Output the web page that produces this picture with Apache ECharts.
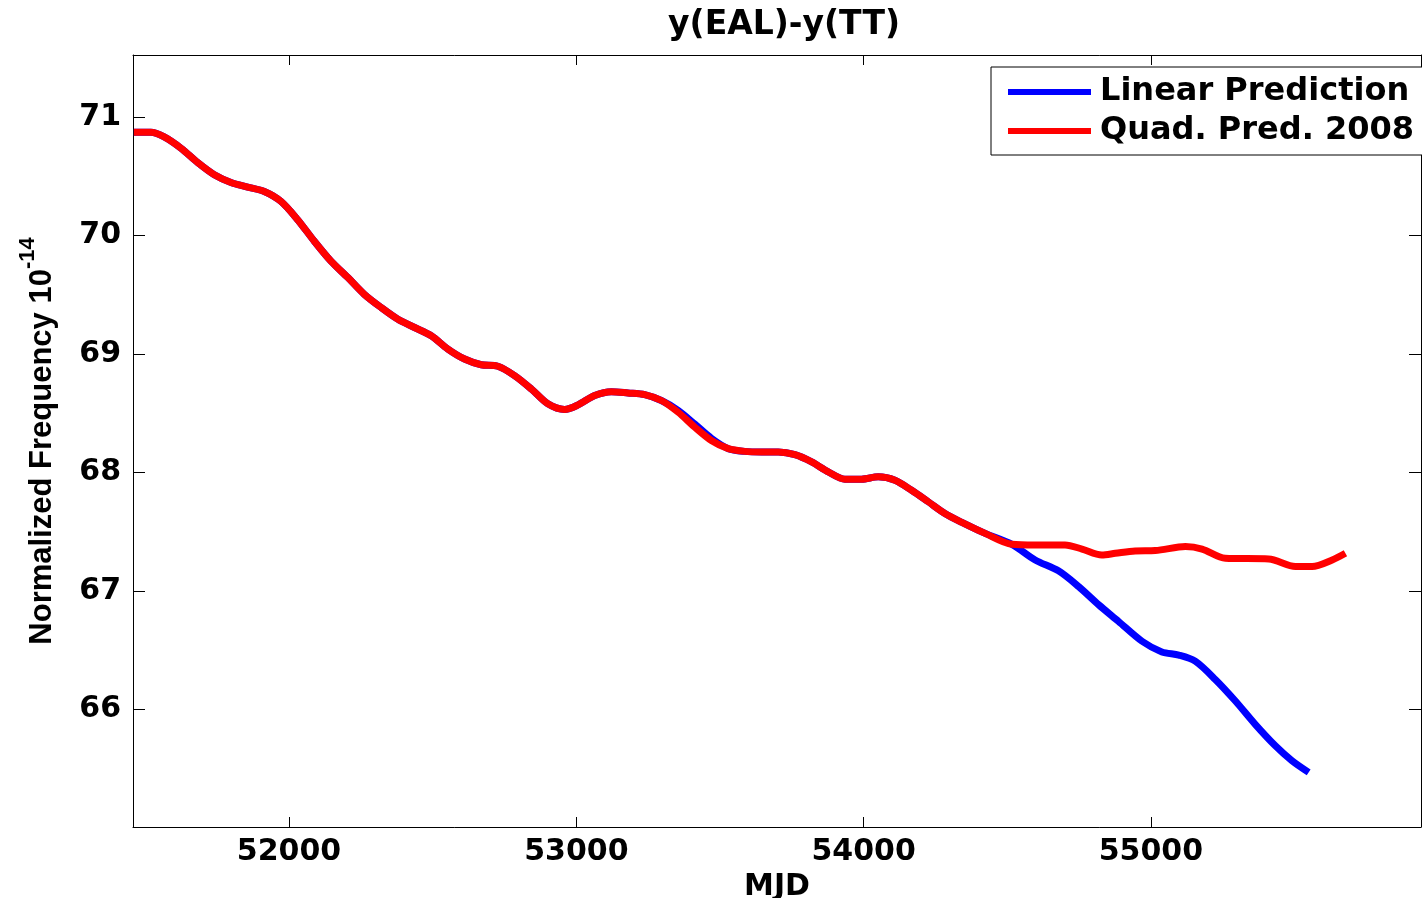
<!DOCTYPE html>
<html>
<head>
<meta charset="utf-8">
<title>y(EAL)-y(TT)</title>
<script src="https://cdn.jsdelivr.net/npm/echarts@6/dist/echarts.min.js"></script>
<style>
  html, body { margin: 0; padding: 0; background: #fff; }
  #chart { width: 1422px; height: 898px; }
</style>
</head>
<body>
<div id="chart"></div>
<script>
// shared part of both predictions (they overlap up to ~54520)
const mjdCommon = [51460, 51519, 51564, 51624, 51682, 51740, 51798, 51856, 51914, 51972,
  52030, 52088, 52146, 52205, 52262, 52321, 52379, 52437, 52495, 52553,
  52611, 52669, 52727, 52785, 52843, 52901, 52959, 53006, 53064, 53122,
  53180, 53238, 53296, 53354, 53412, 53470, 53529, 53586, 53645, 53703,
  53761, 53819, 53877, 53935, 53993, 54051, 54109, 54167, 54225, 54283,
  54342, 54423, 54516]
const valCommon = [70.871, 70.871, 70.834, 70.737, 70.616, 70.513, 70.448, 70.409, 70.372, 70.288,
  70.134, 69.952, 69.784, 69.645, 69.504, 69.392, 69.294, 69.224, 69.154, 69.042,
  68.958, 68.910, 68.897, 68.818, 68.706, 68.580, 68.532, 68.571, 68.650, 68.683,
  68.672, 68.658, 68.608, 68.510, 68.384, 68.271, 68.202, 68.179, 68.174, 68.174,
  68.151, 68.090, 68.006, 67.944, 67.944, 67.964, 67.935, 67.851, 67.754, 67.655,
  67.580, 67.487, 67.395]
// small offsets where the blue line peeks out from under the red one
const linearTweakMjd = [53354, 53412, 53470]
const linearTweakVal = [68.525, 68.410, 68.290]

// after divergence
const mjdLinear = [54597, 54678, 54748, 54818, 54887, 54969, 55038, 55097, 55154, 55224,
  55294, 55363, 55433, 55491, 55549]
const valLinear = [67.263, 67.171, 67.039, 66.885, 66.745, 66.577, 66.487, 66.460, 66.409, 66.255,
  66.073, 65.876, 65.695, 65.569, 65.471]
const mjdQuad = [54597, 54701, 54760, 54829, 54876, 54945, 55015, 55120, 55178, 55259,
  55410, 55503, 55561, 55631, 55677]
const valQuad = [67.389, 67.389, 67.355, 67.305, 67.319, 67.339, 67.342, 67.376, 67.355, 67.277,
  67.272, 67.208, 67.208, 67.263, 67.319]

const xTicks = [52000, 53000, 54000, 55000]
const yTicks = [66, 67, 68, 69, 70, 71]

function buildSeries(mjdTail, valTail, tweakMjd, tweakVal) {
  const out = mjdCommon.map((m, i) => {
    const k = tweakMjd ? tweakMjd.indexOf(m) : -1
    return [m, k >= 0 ? tweakVal[k] : valCommon[i]]
  })
  mjdTail.forEach((m, i) => out.push([m, valTail[i]]))
  return out
}

const FONT = 'DejaVu Sans'
const myChart = echarts.init(document.getElementById('chart'), null, { renderer: 'canvas' })

const tickStyle = { lineStyle: { color: '#000', width: 1 } }
myChart.setOption({
  animation: false,
  backgroundColor: '#fff',
  title: {
    text: 'y(EAL)-y(TT)',
    left: 779,
    top: 4,
    textAlign: 'center',
    textStyle: { fontFamily: FONT, fontWeight: 'bold', fontSize: 33, color: '#000' }
  },
  legend: {
    left: 991,
    top: 67,
    orient: 'vertical',
    icon: 'rect',
    itemWidth: 83,
    itemHeight: 6,
    itemGap: 7,
    padding: [9, 20, 8, 17],
    borderColor: '#000',
    borderWidth: 1,
    backgroundColor: '#fff',
    textStyle: { fontFamily: FONT, fontWeight: 'bold', fontSize: 32, color: '#000', padding: [0, 0, 0, 4] },
    data: ['Linear Prediction', 'Quad. Pred. 2008']
  },
  grid: { left: 133, right: 1, top: 55, bottom: 71, outerBoundsMode: 'none' },
  xAxis: [{
    type: 'value',
    min: 51457,
    max: 55940,
    name: 'MJD',
    nameLocation: 'middle',
    nameGap: 42,
    nameTextStyle: { fontFamily: FONT, fontWeight: 'bold', fontSize: 30, color: '#000' },
    axisLine: { show: true, lineStyle: { color: '#000', width: 1 } },
    axisTick: { show: true, inside: true, length: 10, customValues: xTicks, ...tickStyle },
    axisLabel: {
      customValues: xTicks,
      margin: 10,
      formatter: v => String(v),
      fontFamily: FONT, fontWeight: 'bold', fontSize: 30, color: '#000'
    },
    splitLine: { show: false }
  }, {
    type: 'value',
    position: 'top',
    min: 51457,
    max: 55940,
    axisLine: { show: true, lineStyle: { color: '#000', width: 1 } },
    axisTick: { show: true, inside: true, length: 10, customValues: xTicks, ...tickStyle },
    axisLabel: { show: false },
    splitLine: { show: false }
  }],
  yAxis: [{
    type: 'value',
    min: 65.01,
    max: 71.523,
    name: '{b|Normalized Frequency 10}{sup|-14}',
    nameLocation: 'middle',
    nameGap: 75,
    nameTextStyle: {
      fontFamily: 'Liberation Sans',
      fontWeight: 'bold',
      fontSize: 31,
      color: '#000',
      rich: {
        b: { fontFamily: 'Liberation Sans', fontWeight: 'bold', fontSize: 31, color: '#000', verticalAlign: 'bottom', lineHeight: 41 },
        sup: { fontFamily: 'Liberation Sans', fontWeight: 'bold', fontSize: 22, color: '#000', verticalAlign: 'top', lineHeight: 41 }
      }
    },
    axisLine: { show: true, lineStyle: { color: '#000', width: 1 } },
    axisTick: { show: true, inside: true, length: 12, customValues: yTicks, ...tickStyle },
    axisLabel: { customValues: yTicks, margin: 12, fontFamily: FONT, fontWeight: 'bold', fontSize: 30, color: '#000' },
    splitLine: { show: false }
  }, {
    type: 'value',
    position: 'right',
    min: 65.01,
    max: 71.523,
    axisLine: { show: true, lineStyle: { color: '#000', width: 1 } },
    axisTick: { show: true, inside: true, length: 12, customValues: yTicks, ...tickStyle },
    axisLabel: { show: false },
    splitLine: { show: false }
  }],
  series: [{
    name: 'Linear Prediction',
    type: 'line',
    color: '#0000ff',
    showSymbol: false,
    smooth: 0.3,
    lineStyle: { width: 7, color: '#0000ff' },
    data: buildSeries(mjdLinear, valLinear, linearTweakMjd, linearTweakVal)
  }, {
    name: 'Quad. Pred. 2008',
    type: 'line',
    color: '#ff0000',
    showSymbol: false,
    smooth: 0.3,
    lineStyle: { width: 7, color: '#ff0000' },
    data: buildSeries(mjdQuad, valQuad)
  }]
})
window.addEventListener('resize', function() {
  myChart.resize()
})
</script>
</body>
</html>
